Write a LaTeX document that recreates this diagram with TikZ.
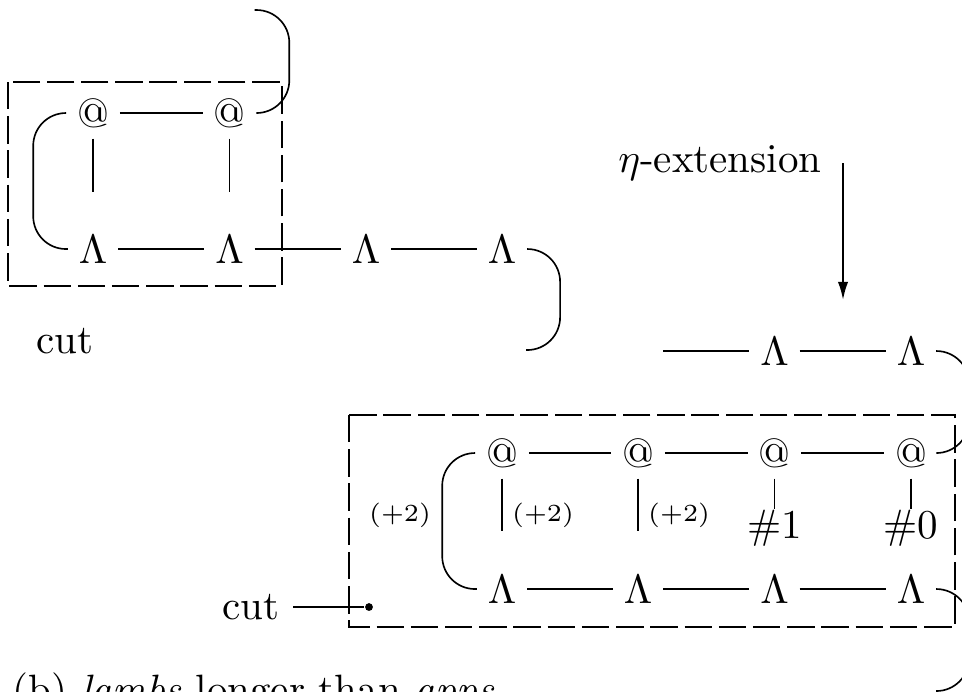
\documentclass[tikz,border=0pt]{standalone}
\usetikzlibrary{arrows.meta}
\begin{document}
\begin{tikzpicture}[x=0.244pt,y=-0.244pt,
  gn/.style={inner sep=2.45pt},
  brk/.style={rounded corners=8pt},
  cutbox/.style={dash pattern=on 6.7pt off 1.65pt},
  lbl/.style={font=\fontsize{6}{7}\selectfont},
  idx/.style={inner sep=0pt},
  dotnode/.style={circle,fill,inner sep=0pt,minimum size=1.9pt}]
\useasboundingbox (0,0) rectangle (962,691);
\clip (0,0) rectangle (962,691);
% top-left group
\node[gn] (a1) at (93,113) {@};
\node[gn] (a2) at (229.5,113) {@};
\node[gn] (l1) at (93,249) {$\Lambda$};
\node[gn] (l2) at (229.5,249) {$\Lambda$};
\node[gn] (l3) at (366,249) {$\Lambda$};
\node[gn] (l4) at (502,249) {$\Lambda$};
\coordinate (a1arg) at (93,192);
\coordinate (a2arg) at (229.5,192);
\coordinate (topend) at (254.5,10);
\coordinate (l4end) at (526,350);
\draw (a1) -- (a2);
\draw (l1) -- (l2) -- (l3) -- (l4);
\draw (a1) -- (a1arg);
\draw (a2) -- (a2arg);
\draw[brk] (a1.west) -- ++(-33,0) |- (l1.west);
\draw[brk] (a2.east) -- ++(33,0) |- (topend);
\draw[brk] (l4.east) -- ++(33,0) |- (l4end);
\draw[cutbox] (8,82) rectangle (282,286);
\node[anchor=base] (cut1) at (64.5,353) {cut};
% eta extension
\node[anchor=base] (eta) at (720,172) {$\eta$-extension};
\coordinate (arrtop) at (843,163);
\coordinate (arrbot) at (843,300);
\draw[line width=0.5pt,-{Latex[length=4.4pt,width=2.5pt]}] (arrtop) -- (arrbot);
% middle row
\coordinate (l5in) at (663,351);
\node[gn] (l5) at (774.5,351) {$\Lambda$};
\node[gn] (l6) at (911,351) {$\Lambda$};
\draw (l5in) -- (l5) -- (l6);
% bottom group
\node[gn] (b1) at (502,453) {@};
\node[gn] (b2) at (638,453) {@};
\node[gn] (b3) at (774.5,453) {@};
\node[gn] (b4) at (911,453) {@};
\node[gn] (c1) at (502,589) {$\Lambda$};
\node[gn] (c2) at (638,589) {$\Lambda$};
\node[gn] (c3) at (774.5,589) {$\Lambda$};
\node[gn] (c4) at (911,589) {$\Lambda$};
\node[idx] (h1) at (774.5,528) {\#1};
\node[idx] (h0) at (911,528) {\#0};
\coordinate (b1arg) at (502,531);
\coordinate (b2arg) at (638,531);
\coordinate (c4end) at (936,691);
\draw (b1) -- (b2) -- (b3) -- (b4);
\draw (c1) -- (c2) -- (c3) -- (c4);
\draw (b1) -- (b1arg);
\draw (b2) -- (b2arg);
\draw (b3) -- (h1.north);
\draw (b4) -- (h0.north);
\draw[brk] (b1.west) -- ++(-33,0) |- (c1.west);
\draw[brk] (l6.east) -- ++(33,0) |- (b4.east);
\draw[brk] (c4.east) -- ++(33,0) |- (c4end);
\node[lbl] (p1) at (400,515) {(+2)};
\node[lbl] (p2) at (543,515) {(+2)};
\node[lbl] (p3) at (679,515) {(+2)};
\draw[cutbox] (349,415) rectangle (955,627);
\node (cut2) at (250.5,607) {cut};
\node[dotnode] (dot) at (369,607) {};
\draw (cut2) -- (dot);
% caption
\node[anchor=base west,inner sep=0pt] (cap) at (12,703) {(b) \emph{lambs} longer than \emph{apps}};
\end{tikzpicture}
\end{document}
